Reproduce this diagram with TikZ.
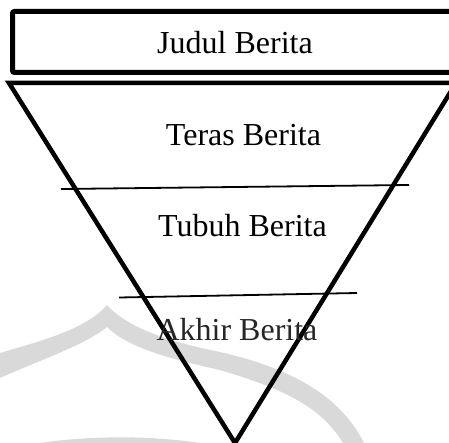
\documentclass[tikz,border=0pt]{standalone}
\usepackage{fontspec}
\setmainfont{Liberation Serif}
\begin{document}
\begin{tikzpicture}[x=1pt,y=-1pt,
  thickbox/.style={line width=5pt,rounded corners=2pt},
  funnel/.style={line width=4.5pt,line join=miter},
  divider/.style={line width=1.8pt},
  label/.style={anchor=base,inner sep=0pt,font=\fontsize{32}{38}\selectfont},
  wm/.style={fill=black!15,draw=none}]
\useasboundingbox (0,0) rectangle (449,443);
\clip (0,0) rectangle (449,443);
% watermark
\fill[wm] (0,353) .. controls (40,341) and (85,330) .. (107,305)
  .. controls (125,325) and (160,340) .. (220,352)
  .. controls (290,368) and (340,395) .. (364,443)
  -- (343,443)
  .. controls (320,405) and (280,388) .. (220,370)
  .. controls (160,357) and (125,345) .. (107,327)
  .. controls (85,345) and (40,360) .. (0,378) -- cycle;
\fill[wm] (40,443) .. controls (80,437) and (140,434) .. (200,443) -- cycle;
% title box
\draw[thickbox] (12.5,11.5) rectangle (470,72.5);
\node[label] (judul) at (235,54) {Judul Berita};
% funnel
\coordinate (tl) at (9,83);
\coordinate (tr) at (456,83);
\coordinate (apex) at (235,443);
\draw[funnel] (tl) -- (tr) -- (apex) -- cycle;
\coordinate (a1) at (61,189);
\coordinate (b1) at (409,185);
\coordinate (a2) at (119,297.5);
\coordinate (b2) at (357,293);
\draw[divider] (a1) -- (b1);
\draw[divider] (a2) -- (b2);
\node[label] (teras) at (243.5,146) {Teras Berita};
\node[label] (tubuh) at (242.5,237) {Tubuh Berita};
\node[label,text=black!85] (akhir) at (237,340) {Akhir Berita};
\end{tikzpicture}
\end{document}
